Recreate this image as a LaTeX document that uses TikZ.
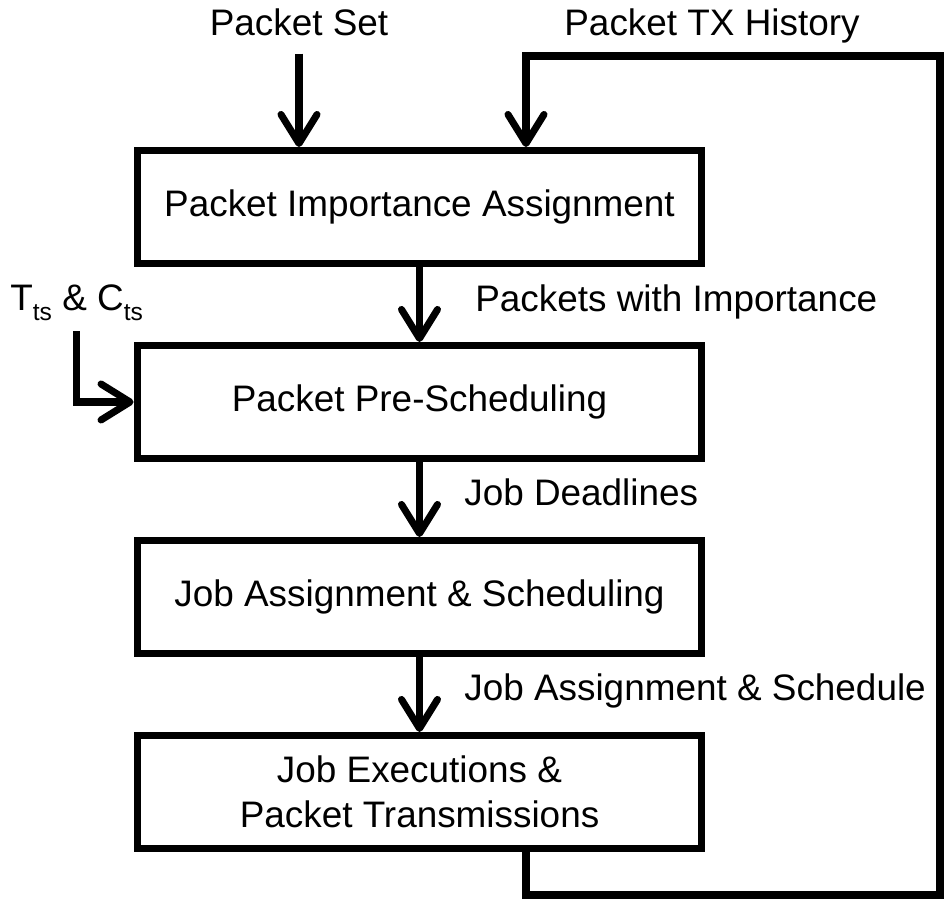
\documentclass[tikz,border=0pt]{standalone}
\usepackage{fontspec}
\setmainfont{Liberation Sans}
\usetikzlibrary{positioning,arrows.meta}

\newcommand{\lowsub}[1]{\raisebox{-6pt}{\fontsize{14}{14}\selectfont #1}}

\begin{document}
\begin{tikzpicture}[x=0.02cm,y=0.02cm,
  every node/.style={font=\fontsize{21}{25.6}\selectfont},
  stage/.style={draw, line width=4pt, minimum width=11.3cm, minimum height=2.26cm, align=center, inner sep=0pt},
  flow/.style={line width=4pt, -{Straight Barb[length=0.58cm,width=0.72cm,round]}},
  tag/.style={inner sep=0pt},
  node distance=1.5cm]
\useasboundingbox (0,0) rectangle (948,-900);

% stages
\node[stage] (pia) at (419.5,-207) {Packet Importance Assignment};
\node[stage, below=of pia] (pps) {Packet Pre-Scheduling};
\node[stage, below=of pps] (jas) {Job Assignment \& Scheduling};
\node[stage, below=of jas] (jep) {Job Executions \&\\Packet Transmissions};

% inputs and labels
\node[tag, anchor=base] (pset) at (299,-35) {Packet Set};
\node[tag, anchor=base] (ptx) at (712,-35) {Packet TX History};
\node[tag, anchor=base west] (ltc) at (10,-310) {T\lowsub{ts} \& C\lowsub{ts}};
\node[tag, anchor=base west] (lpi) at (475,-311.7) {Packets with Importance};
\node[tag, anchor=base west] (ljd) at (464,-505) {Job Deadlines};
\node[tag, anchor=base west] (ljs) at (464,-700) {Job Assignment \& Schedule};

% flows
\draw[flow, shorten <=0.36cm] (pset.south) -- (pset.south |- pia.north);
\draw[flow, shorten <=0.2cm] (ltc.south) |- (pps.west);
\draw[flow] (pia) -- (pps);
\draw[flow] (pps) -- (jas);
\draw[flow] (jas) -- (jep);

% feedback loop
\coordinate (txin) at (526,-56);
\coordinate (loopne) at (940,-56);
\coordinate (loopse) at (940,-895);
\draw[flow] (txin |- jep.south) |- (loopse) -- (loopne) -- (txin) -- (txin |- pia.north);
\end{tikzpicture}
\end{document}
